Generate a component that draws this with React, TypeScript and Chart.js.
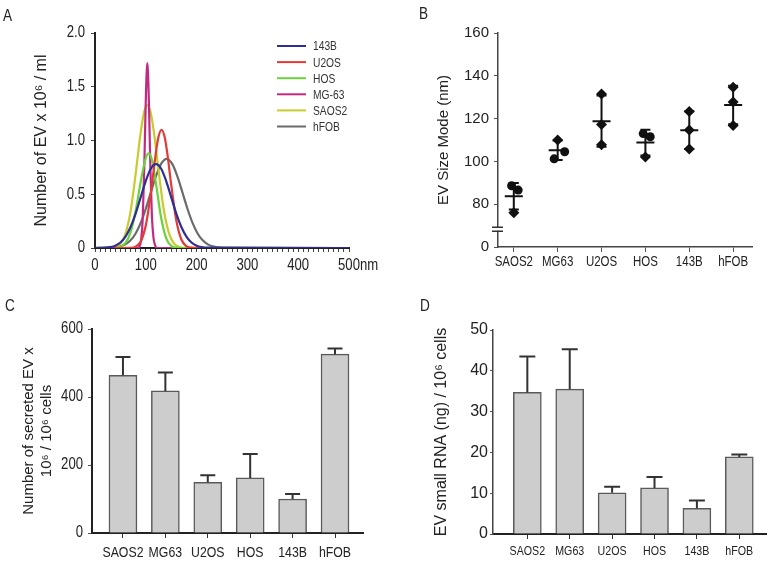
import React, { useEffect, useRef } from 'react';
import { Chart, registerables } from 'chart.js';

Chart.register(...registerables);

const NARROW = "'Liberation Sans Narrow', 'Liberation Sans', Arial, sans-serif";
const REGULAR = "'Liberation Sans', Arial, sans-serif";
const NARROW_SCALE = 0.82;
const INK = '#222222';

// ---------------- Panel A: size distributions ----------------
const seriesNames = ['143B', 'U2OS', 'HOS', 'MG-63', 'SAOS2', 'hFOB'];
const nm143B = [0, 20, 30, 40, 50, 60, 70, 80, 90, 100, 110, 120, 130, 140, 150, 160, 170, 180, 190, 200, 210, 220, 500];
const ev143B = [0, 0.003, 0.009, 0.022, 0.051, 0.106, 0.195, 0.32, 0.473, 0.625, 0.74, 0.78, 0.74, 0.625, 0.473, 0.32, 0.195, 0.106, 0.051, 0.022, 0.009, 0.003, 0];
const nmU2OS = [0, 70, 80, 90, 100, 110, 120, 125, 131, 137, 142, 150, 160, 170, 180, 190, 200, 500];
const evU2OS = [0, 0.002, 0.012, 0.06, 0.209, 0.513, 0.892, 1.034, 1.1, 1.034, 0.892, 0.589, 0.257, 0.079, 0.017, 0.003, 0, 0];
const nmHOS = [0, 40, 50, 60, 70, 80, 90, 100, 106, 112, 120, 130, 140, 150, 160, 170, 500];
const evHOS = [0, 0.002, 0.011, 0.047, 0.146, 0.345, 0.617, 0.837, 0.88, 0.82, 0.6, 0.286, 0.092, 0.02, 0.003, 0, 0];
const nmMG63 = [0, 85, 88, 91, 94, 97, 100, 103, 106, 109, 112, 115, 118, 122, 500];
const evMG63 = [0, 0, 0.02, 0.08, 0.28, 0.75, 1.38, 1.72, 1.38, 0.75, 0.3, 0.1, 0.03, 0, 0];
const nmSAOS2 = [0, 40, 50, 60, 70, 80, 90, 97, 103, 109, 116, 125, 135, 145, 155, 165, 175, 500];
const evSAOS2 = [0, 0.009, 0.04, 0.132, 0.341, 0.687, 1.077, 1.271, 1.33, 1.271, 1.077, 0.726, 0.37, 0.147, 0.045, 0.011, 0.002, 0];
const nmHFOB = [0, 40, 50, 60, 70, 80, 90, 100, 110, 120, 130, 141, 152, 162, 172, 182, 192, 202, 212, 222, 232, 242, 252, 500];
const evHFOB = [0, 0.006, 0.015, 0.034, 0.071, 0.135, 0.233, 0.365, 0.519, 0.669, 0.783, 0.83, 0.783, 0.669, 0.519, 0.365, 0.233, 0.135, 0.071, 0.034, 0.015, 0.006, 0.002, 0];
const seriesColors = ['#2e2e96', '#e23a36', '#6ad23a', '#c22a82', '#c8cb2c', '#6b6b6b'];
const aYTitle = 'Number of EV x 10⁶ / ml';
const aXUnit = 'nm';

// ---------------- Shared categories ----------------
const cellLines = ['SAOS2', 'MG63', 'U2OS', 'HOS', '143B', 'hFOB'];

// ---------------- Panel B: size mode ----------------
const bReplicates = [
  [88.6, 86.6, 76],
  [110, 104.5, 101.2],
  [131.5, 117.2, 107.8],
  [113, 111.5, 102],
  [123.3, 114.7, 105.8],
  [134.7, 127.8, 116.8],
];
const bJitter = [
  [-0.05, 0.1, 0],
  [0, 0.16, -0.08],
  [0, 0, 0],
  [-0.05, 0.11, 0],
  [0, 0, 0],
  [0, 0, 0],
];
const bMeans = [83.7, 105.2, 118.8, 108.8, 114.6, 126.4];
const bSD = [6.2, 4.6, 12, 6, 8.8, 9];
const bYTickValues = [60, 80, 100, 120, 140, 160];
const bYTickLabels = ['0', '80', '100', '120', '140', '160'];
const bBreakValue = 68.3;
const bYTitle = 'EV Size Mode (nm)';

// ---------------- Panel C: secreted EV ----------------
const cMeans = [464, 418, 149, 162, 100, 526];
const cErr = [54, 54, 21, 70, 15, 17];
const cYTitle = ['Number of secreted EV x', '10⁶ / 10⁶ cells'];

// ---------------- Panel D: small RNA ----------------
const dMeans = [34.7, 35.5, 10.1, 11.3, 6.3, 18.9];
const dErr = [8.8, 9.8, 1.5, 2.7, 1.9, 0.6];
const dYTitle = 'EV small RNA (ng) / 10⁶ cells';

const panelLetters = ['A', 'B', 'C', 'D'];

// ---------------- helpers ----------------
const fixedWidth = (w: number) => (s: any) => { s.width = w; };
const fixedHeight = (h: number) => (s: any) => { s.height = h; };
const catTicks = (s: any) => { s.ticks = cellLines.map((_, i) => ({ value: i })); };

// Horizontal text set in the "narrow" family is drawn condensed (no narrow face is installed).
function condenseText(canvas: HTMLCanvasElement) {
  const ctx: any = canvas.getContext('2d');
  if (!ctx || ctx.__condensed) return;
  const orig = ctx.fillText;
  ctx.fillText = function (text: string, x: number, y: number, maxWidth?: number) {
    const t = this.getTransform();
    if (String(this.font).indexOf('Narrow') >= 0 && Math.abs(t.b) < 1e-6) {
      this.save();
      this.translate(x, y);
      this.scale(NARROW_SCALE, 1);
      orig.call(this, text, 0, 0);
      this.restore();
    } else if (maxWidth !== undefined) {
      orig.call(this, text, x, y, maxWidth);
    } else {
      orig.call(this, text, x, y);
    }
  };
  ctx.__condensed = true;
}

const aLegendPlugin = {
  id: 'aLegend',
  afterDraw(chart: any) {
    const { ctx, chartArea } = chart;
    const lx = chartArea.left + 182;
    const ly = chartArea.top + 13;
    ctx.save();
    ctx.font = `12.5px ${NARROW}`;
    ctx.textBaseline = 'middle';
    ctx.textAlign = 'left';
    chart.data.datasets.forEach((ds: any, i: number) => {
      const y = ly + i * 16.1;
      ctx.strokeStyle = ds.borderColor;
      ctx.lineWidth = 2;
      ctx.beginPath();
      ctx.moveTo(lx, y);
      ctx.lineTo(lx + 29, y);
      ctx.stroke();
      ctx.fillStyle = '#333';
      ctx.fillText(ds.label, lx + 36, y + 1);
    });
    ctx.restore();
  },
};

const unitPlugin = {
  id: 'unitLabel',
  afterDraw(chart: any) {
    const { ctx, chartArea, scales } = chart;
    ctx.save();
    ctx.font = `16px ${NARROW}`;
    ctx.fillStyle = INK;
    ctx.textAlign = 'left';
    ctx.textBaseline = 'middle';
    ctx.fillText(aXUnit, scales.x.getPixelForValue(500) + 11, chartArea.bottom + 18);
    ctx.restore();
  },
};

const meanSdPlugin = {
  id: 'meanSd',
  afterDatasetsDraw(chart: any) {
    const { ctx, scales } = chart;
    ctx.save();
    ctx.strokeStyle = '#111';
    ctx.lineWidth = 2;
    bMeans.forEach((m, i) => {
      const x = scales.x.getPixelForValue(i);
      const yT = scales.y.getPixelForValue(m + bSD[i]);
      const yB = scales.y.getPixelForValue(m - bSD[i]);
      const yM = scales.y.getPixelForValue(m);
      ctx.beginPath();
      ctx.moveTo(x, yT); ctx.lineTo(x, yB);
      ctx.moveTo(x - 5, yT); ctx.lineTo(x + 5, yT);
      ctx.moveTo(x - 5, yB); ctx.lineTo(x + 5, yB);
      ctx.moveTo(x - 9, yM); ctx.lineTo(x + 9, yM);
      ctx.stroke();
    });
    ctx.restore();
  },
};

const breakPlugin = {
  id: 'axisBreak',
  afterDraw(chart: any) {
    const { ctx, chartArea, scales } = chart;
    const y = scales.y.getPixelForValue(bBreakValue);
    const x = chartArea.left;
    ctx.save();
    ctx.fillStyle = '#fff';
    ctx.fillRect(x - 3, y - 1.5, 6, 3);
    ctx.strokeStyle = '#333';
    ctx.lineWidth = 1.5;
    ctx.beginPath();
    ctx.moveTo(x - 6, y - 2); ctx.lineTo(x + 5, y - 2);
    ctx.moveTo(x - 6, y + 2); ctx.lineTo(x + 5, y + 2);
    ctx.stroke();
    ctx.restore();
  },
};

const makeErrPlugin = (means: number[], errs: number[], half: number) => ({
  id: 'errBars',
  afterDatasetsDraw(chart: any) {
    const { ctx, scales } = chart;
    ctx.save();
    ctx.strokeStyle = '#333';
    ctx.lineWidth = 2;
    means.forEach((m, i) => {
      const x = scales.x.getPixelForValue(i);
      const y0 = scales.y.getPixelForValue(m);
      const y1 = scales.y.getPixelForValue(m + errs[i]);
      ctx.beginPath();
      ctx.moveTo(x, y0); ctx.lineTo(x, y1);
      ctx.moveTo(x - half, y1); ctx.lineTo(x + half, y1);
      ctx.stroke();
    });
    ctx.restore();
  },
});

const baseOptions = (pad: any) => ({
  responsive: false,
  animation: false,
  events: [],
  layout: { padding: pad },
  plugins: { legend: { display: false }, tooltip: { enabled: false } },
});

// ---------------- configs ----------------
function configA(): any {
  const nmArrays = [nm143B, nmU2OS, nmHOS, nmMG63, nmSAOS2, nmHFOB];
  const evArrays = [ev143B, evU2OS, evHOS, evMG63, evSAOS2, evHFOB];
  const xTicks = Array.from({ length: 51 }, (_, i) => i * 10);
  return {
    type: 'line',
    data: {
      datasets: seriesNames.map((name, k) => ({
        label: name,
        data: nmArrays[k].map((x, i) => ({ x, y: evArrays[k][i] })),
        borderColor: seriesColors[k],
        backgroundColor: seriesColors[k],
        borderWidth: 2.2,
        pointRadius: 0,
        cubicInterpolationMode: 'monotone',
        fill: false,
      })),
    },
    options: {
      ...baseOptions({ left: 0, top: 33, right: 37, bottom: 0 }),
      scales: {
        x: {
          type: 'linear', min: 0, max: 500,
          afterFit: fixedHeight(32),
          afterBuildTicks: (s: any) => { s.ticks = xTicks.map((v) => ({ value: v })); },
          ticks: {
            autoSkip: false, maxRotation: 0, padding: 4, color: INK,
            font: { family: NARROW, size: 16 },
            callback: (v: any) => (Number(v) % 100 === 0 ? String(v) : ''),
          },
          grid: { drawOnChartArea: false, tickLength: 4, color: '#444' },
          border: { color: INK, width: 2 },
        },
        y: {
          min: 0, max: 2,
          afterFit: fixedWidth(95),
          ticks: {
            stepSize: 0.5, padding: 6, color: INK,
            font: { family: NARROW, size: 16 },
            callback: (v: any) => (Number(v) === 0 ? '0' : Number(v).toFixed(1)),
          },
          grid: { drawOnChartArea: false, tickLength: 4, color: '#444' },
          border: { color: INK, width: 2 },
          title: { display: true, text: aYTitle, color: INK, font: { family: REGULAR, size: 16 }, padding: { top: 32, bottom: 0 } },
        },
      },
    },
    plugins: [aLegendPlugin, unitPlugin],
  };
}

function configB(): any {
  const points: any[] = [];
  const styles: string[] = [];
  const radii: number[] = [];
  bReplicates.forEach((reps, i) => reps.forEach((v, j) => {
    points.push({ x: i + bJitter[i][j], y: v });
    const round = bJitter[i][j] !== 0;
    styles.push(round ? 'circle' : 'rectRot');
    radii.push(round ? 4.5 : 5.5);
  }));
  return {
    type: 'scatter',
    data: {
      datasets: [{
        label: 'EV size mode', data: points,
        pointStyle: styles, pointRadius: radii,
        backgroundColor: '#111', borderColor: '#111', borderWidth: 0,
      }],
    },
    options: {
      ...baseOptions({ left: 0, top: 33, right: 20, bottom: 0 }),
      scales: {
        x: {
          type: 'linear', min: -0.36, max: 5.43,
          afterFit: fixedHeight(33),
          afterBuildTicks: catTicks,
          ticks: {
            autoSkip: false, maxRotation: 0, padding: 2, color: INK,
            font: { family: NARROW, size: 14 },
            callback: (v: any) => cellLines[Math.round(Number(v))],
          },
          grid: { drawOnChartArea: false, tickLength: 5, color: '#555' },
          border: { color: '#444', width: 1.5 },
        },
        y: {
          min: 60, max: 160,
          afterFit: fixedWidth(112),
          afterBuildTicks: (s: any) => { s.ticks = bYTickValues.map((v) => ({ value: v })); },
          ticks: {
            padding: 5, color: INK,
            font: { family: REGULAR, size: 15 },
            callback: (_v: any, i: number) => bYTickLabels[i],
          },
          grid: { drawOnChartArea: false, tickLength: 4, color: '#555' },
          border: { color: '#444', width: 1.5 },
          title: { display: true, text: bYTitle, color: INK, font: { family: REGULAR, size: 15 }, padding: { top: 48.5, bottom: 0 } },
        },
      },
    },
    plugins: [meanSdPlugin, breakPlugin],
  };
}

function barConfig(opts: any): any {
  return {
    type: 'bar',
    data: {
      datasets: [{
        label: opts.label,
        data: opts.means.map((v: number, i: number) => ({ x: i, y: v })),
        backgroundColor: '#cdcdcd', borderColor: '#5a5a5a', borderWidth: 1.5,
        barThickness: 28,
      }],
    },
    options: {
      ...baseOptions(opts.pad),
      scales: {
        x: {
          type: 'linear', min: opts.xMin, max: opts.xMax, offset: false,
          afterFit: fixedHeight(opts.xH),
          afterBuildTicks: catTicks,
          ticks: {
            autoSkip: false, maxRotation: 0, padding: opts.xPad, color: INK,
            font: { family: NARROW, size: opts.xFont },
            callback: (v: any) => cellLines[Math.round(Number(v))],
          },
          grid: { drawOnChartArea: false, offset: false, tickLength: 5, color: '#333' },
          border: { color: INK, width: 2 },
        },
        y: {
          min: 0, max: opts.yMax,
          afterFit: fixedWidth(opts.yW),
          ticks: {
            stepSize: opts.yStep, padding: opts.yPad, color: INK,
            font: { family: opts.yFontFamily, size: 16 },
          },
          grid: { drawOnChartArea: false, tickLength: opts.yTick, color: '#555' },
          border: { color: opts.yAxisColor, width: opts.yAxisWidth },
          title: { display: true, text: opts.title, color: INK, font: { family: REGULAR, size: opts.titleSize }, padding: { top: opts.titlePad, bottom: 0 } },
        },
      },
    },
    plugins: [makeErrPlugin(opts.means, opts.errs, opts.cap)],
  };
}

const configC = () => barConfig({
  label: 'Secreted EV', means: cMeans, errs: cErr, cap: 7.5,
  pad: { left: 0, top: 49, right: 23, bottom: 0 },
  xMin: -0.73, xMax: 5.66, xH: 30, xPad: 6, xFont: 15,
  yMax: 600, yStep: 200, yW: 92, yPad: 5, yTick: 4, yFontFamily: NARROW,
  yAxisColor: INK, yAxisWidth: 2,
  title: cYTitle, titleSize: 15, titlePad: 19.5,
});

const configD = () => barConfig({
  label: 'EV small RNA', means: dMeans, errs: dErr, cap: 8,
  pad: { left: 0, top: 50, right: 6, bottom: 0 },
  xMin: -0.81, xMax: 5.63, xH: 29, xPad: 4.5, xFont: 13,
  yMax: 50, yStep: 10, yW: 107, yPad: 2, yTick: 3, yFontFamily: REGULAR,
  yAxisColor: '#444', yAxisWidth: 1.5,
  title: dYTitle, titleSize: 16, titlePad: 46,
});

function ChartPanel({ left, top, width, height, make }: { left: number; top: number; width: number; height: number; make: () => any }) {
  const ref = useRef<HTMLCanvasElement | null>(null);
  useEffect(() => {
    if (!ref.current) return;
    condenseText(ref.current);
    const chart = new Chart(ref.current, make());
    return () => chart.destroy();
  }, []);
  return (
    <canvas
      ref={ref}
      width={width}
      height={height}
      style={{ position: 'absolute', left, top, width, height }}
    />
  );
}

const letterPos = [
  { left: 3, top: 8 },
  { left: 419, top: 6 },
  { left: 5, top: 298 },
  { left: 420, top: 298 },
];

export default function App() {
  return (
    <div style={{ position: 'absolute', left: 0, top: 0, width: 772, height: 563, background: '#fff', overflow: 'hidden' }}>
      <ChartPanel left={0} top={0} width={386} height={280} make={configA} />
      <ChartPanel left={386} top={0} width={386} height={280} make={configB} />
      <ChartPanel left={0} top={280} width={386} height={283} make={configC} />
      <ChartPanel left={386} top={280} width={386} height={283} make={configD} />
      {panelLetters.map((l, i) => (
        <div
          key={l}
          style={{
            position: 'absolute', left: letterPos[i].left, top: letterPos[i].top,
            fontFamily: REGULAR, fontSize: 16, lineHeight: '15px', color: INK,
            transform: 'scaleX(0.85)', transformOrigin: 'left top',
          }}
        >
          {l}
        </div>
      ))}
    </div>
  );
}
